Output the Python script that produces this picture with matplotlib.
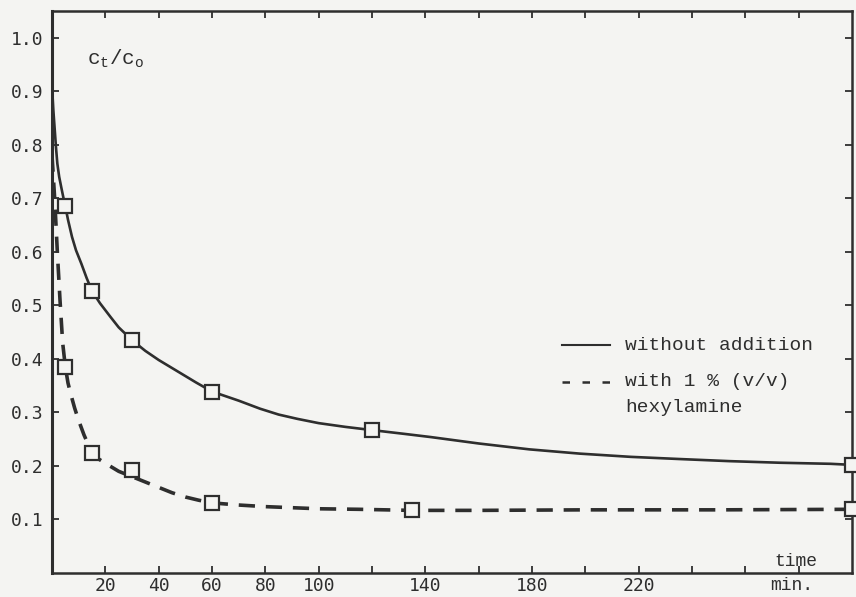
import matplotlib
matplotlib.use("Agg")
import matplotlib.pyplot as plt

# ---- data ----
# traced smooth curves (time in min, c_t/c_0)
solid_t = [0, 0.5, 1, 1.5, 2, 2.7, 3.5, 4.2, 5, 6, 7.5, 9, 11, 13, 15, 18, 22,
           25, 30, 35, 40, 48, 54, 60, 70, 78, 85, 92, 100, 110, 120, 132, 142,
           160, 179, 198, 217, 235, 254, 273, 292, 300]
solid_y = [0.91, 0.865, 0.83, 0.795, 0.765, 0.74, 0.72, 0.703, 0.685, 0.66,
           0.628, 0.603, 0.578, 0.551, 0.527, 0.504, 0.478, 0.459, 0.435,
           0.415, 0.398, 0.374, 0.356, 0.339, 0.322, 0.307, 0.296, 0.288,
           0.28, 0.273, 0.267, 0.26, 0.254, 0.242, 0.231, 0.223, 0.217,
           0.213, 0.209, 0.206, 0.204, 0.202]
dash_t = [0, 0.5, 1, 1.5, 2, 2.5, 3, 3.5, 4, 5, 6, 7, 8.5, 10, 12, 15, 17.5,
          20, 25, 30, 35, 40, 45, 50, 55, 60, 70, 80, 90, 100, 115, 135, 160,
          200, 250, 300]
dash_y = [0.78, 0.74, 0.70, 0.65, 0.60, 0.555, 0.51, 0.47, 0.43, 0.385, 0.355,
          0.335, 0.308, 0.285, 0.258, 0.224, 0.213, 0.205, 0.19, 0.18, 0.17,
          0.16, 0.15, 0.142, 0.136, 0.131, 0.127, 0.124, 0.122, 0.12, 0.119,
          0.117, 0.117, 0.118, 0.118, 0.119]
# measured points (squares)
solid_pts_t = [5, 15, 30, 60, 120, 300]
solid_pts_y = [0.685, 0.527, 0.435, 0.339, 0.267, 0.202]
dash_pts_t = [5, 15, 30, 60, 135, 300]
dash_pts_y = [0.385, 0.224, 0.193, 0.131, 0.117, 0.12]

y_ticks = [0.1, 0.2, 0.3, 0.4, 0.5, 0.6, 0.7, 0.8, 0.9, 1.0]
x_ticks = [20, 40, 60, 80, 100, 120, 140, 160, 180, 200, 220, 240, 260, 280]
x_labels = ["20", "40", "60", "80", "100", "", "140", "", "180", "", "220", "", "", ""]

ink = "#2e2e2e"
bg = "#f4f4f2"
mono = "Liberation Mono"

plt.rcParams["mathtext.fontset"] = "custom"
plt.rcParams["mathtext.rm"] = mono
plt.rcParams["mathtext.it"] = mono

YMAX = 1.05
fig = plt.figure(figsize=(8.56, 5.97), dpi=100, facecolor=bg)
ax = fig.add_axes([52 / 856, 24 / 597, 800 / 856, 562 / 597])
ax.set_facecolor(bg)

ax.plot(solid_t, solid_y, color=ink, lw=1.9, solid_joinstyle="round", zorder=2)
ax.plot(dash_t, dash_y, color=ink, lw=2.6, linestyle=(0, (4.5, 3.0)), zorder=2)
ax.plot(solid_pts_t, solid_pts_y, linestyle="none", marker="s", ms=10,
        mfc=bg, mec=ink, mew=1.6, clip_on=False, zorder=3)
ax.plot(dash_pts_t, dash_pts_y, linestyle="none", marker="s", ms=10,
        mfc=bg, mec=ink, mew=1.6, clip_on=False, zorder=3)

ax.set_xlim(0, 300)
ax.set_ylim(0, YMAX)

ax.set_yticks(y_ticks)
ax.set_yticklabels([f"{v:.1f}" for v in y_ticks])
ax.set_xticks(x_ticks)
ax.set_xticklabels(x_labels)

for s in ax.spines.values():
    s.set_color(ink)
ax.spines["left"].set_linewidth(2.2)
ax.spines["bottom"].set_linewidth(1.8)
ax.spines["top"].set_linewidth(1.8)
ax.spines["right"].set_linewidth(1.8)

ax.tick_params(axis="both", direction="in", length=5, width=1.3, color=ink,
               top=True, right=True, labelcolor=ink)
ax.tick_params(axis="y", pad=6)
ax.tick_params(axis="x", pad=3)
for lab in ax.get_xticklabels() + ax.get_yticklabels():
    lab.set_fontfamily("DejaVu Sans Mono")
    lab.set_fontsize(13)

# axis annotations
ax.text(13, 0.96, r"$\mathrm{c_t/c_o}$", fontsize=15, color=ink,
        ha="left", va="center")
ax.text(279, 0.021, "time", fontfamily=mono, fontsize=13, color=ink,
        ha="center", va="center")
fig.text(792 / 856, 1 - 586 / 597, "min.", fontfamily=mono, fontsize=13,
         color=ink, ha="center", va="center")

# legend drawn as in the original
def px2data(px, py):
    return (px - 52) / 800 * 300, (573 - py) / 562 * YMAX

x0, y0 = px2data(562, 345)
x1, _ = px2data(610, 345)
ax.plot([x0, x1], [y0, y0], color=ink, lw=1.5)
xt, _ = px2data(625, 345)
ax.text(xt, y0, "without addition", fontfamily=mono, fontsize=14, color=ink,
        ha="left", va="center")
_, y1 = px2data(0, 382)
ax.plot([x0, x1], [y1, y1], color=ink, lw=1.8, linestyle=(0, (3, 5)))
ax.text(xt, y1, "with 1 % (v/v)", fontfamily=mono, fontsize=14, color=ink,
        ha="left", va="center")
_, y2 = px2data(0, 407)
ax.text(xt, y2, "hexylamine", fontfamily=mono, fontsize=14, color=ink,
        ha="left", va="center")

fig.savefig("out.png", dpi=100, facecolor=bg)
